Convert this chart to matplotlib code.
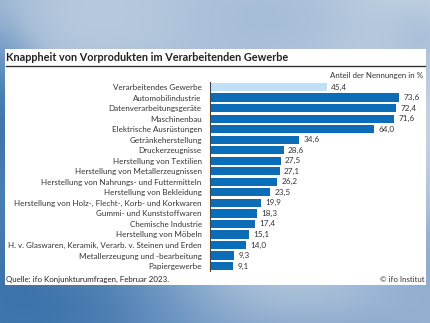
import numpy as np
import matplotlib
matplotlib.use("Agg")
import matplotlib.pyplot as plt
from matplotlib.patches import Rectangle
from matplotlib.colors import LinearSegmentedColormap

# data (February 2023)
categories = [
    "Verarbeitendes Gewerbe",
    "Automobilindustrie",
    "Datenverarbeitungsgeräte",
    "Maschinenbau",
    "Elektrische Ausrüstungen",
    "Getränkeherstellung",
    "Druckerzeugnisse",
    "Herstellung von Textilien",
    "Herstellung von Metallerzeugnissen",
    "Herstellung von Nahrungs- und Futtermitteln",
    "Herstellung von Bekleidung",
    "Herstellung von Holz-, Flecht-, Korb- und Korkwaren",
    "Gummi- und Kunststoffwaren",
    "Chemische Industrie",
    "Herstellung von Möbeln",
    "H. v. Glaswaren, Keramik, Verarb. v. Steinen und Erden",
    "Metallerzeugung und -bearbeitung",
    "Papiergewerbe",
]
values = [45.4, 73.6, 72.4, 71.6, 64.0, 34.6, 28.6, 27.5, 27.1, 26.2,
          23.5, 19.9, 18.3, 17.4, 15.1, 14.0, 9.3, 9.1]

title = "Knappheit von Vorprodukten im Verarbeitenden Gewerbe"
unit_label = "Anteil der Nennungen in %"
source = "Quelle: ifo Konjunkturumfragen, Februar 2023."
copyright_txt = "© ifo Institut"

W, H = 430, 323
fig = plt.figure(figsize=(W / 100, H / 100), dpi=100)
plt.rcParams['font.family'] = ['Lato', 'DejaVu Sans']

# watercolour-ish blue background (smooth gradient)
bg = fig.add_axes([0, 0, 1, 1])
bg.set_axis_off()
yy, xx = np.mgrid[0:1:200j, 0:1:260j]
field = 0.45 * xx + 0.45 * (1 - yy) + 0.12 * np.sin(7 * xx + 4 * yy) + 0.08 * np.cos(11 * yy - 5 * xx)
field = field - 0.5 * np.exp(-((xx - 0.0) ** 2 / 0.01 + (yy - 0.45) ** 2 / 0.1))
field = field - 0.3 * np.exp(-((xx - 1.0) ** 2 / 0.01 + (yy - 0.1) ** 2 / 0.02))
cmap = LinearSegmentedColormap.from_list("wc", ["#3d73ab", "#6f97c3", "#a9bfd8", "#c3d2e3"])
bg.imshow(field, cmap=cmap, aspect="auto", extent=[0, 1, 0, 1], origin="upper")
bg.set_xlim(0, 1)
bg.set_ylim(0, 1)


def px(x, y):
    return x / W, 1 - y / H


# white card
x0, y0 = px(5, 285)
x1, y1 = px(426, 49)
bg.add_patch(Rectangle((x0, y0), x1 - x0, y1 - y0, facecolor="white", edgecolor="none", zorder=2))
lx0, ly = px(6, 65.5)
lx1, _ = px(425, 65.5)
bg.plot([lx0, lx1], [ly, ly], color="#333333", lw=1.0, zorder=3)

tx, ty = px(6, 57.5)
bg.text(tx, ty, title, fontsize=7.8, fontweight="bold", color="#222222",
        ha="left", va="center", zorder=4)
ux, uy = px(423, 75.5)
bg.text(ux, uy, unit_label, fontsize=5.7, color="#333333", ha="right", va="center", zorder=4)
sx, sy = px(6, 279)
bg.text(sx, sy, source, fontsize=5.7, color="#222222", ha="left", va="center", zorder=4)
cx, cy = px(424, 279.5)
bg.text(cx, cy, copyright_txt, fontsize=5.7, color="#333333", ha="right", va="center", zorder=4)

# bar chart
n = len(categories)
ax = fig.add_axes([210 / W, (H - 271.3) / H, 205.6 / W, 189.5 / H])
ax.set_zorder(5)
ax.patch.set_alpha(0)
ypos = np.arange(n)
colors = ["#bfe0f7"] + ["#0b6cb7"] * (n - 1)
ax.barh(ypos, values, height=0.78, color=colors)
for yv, v in zip(ypos, values):
    ax.text(v + 1.7, yv, f"{v:.1f}".replace(".", ","), fontsize=5.9,
            color="#333333", va="center", ha="left")
ax.set_xlim(0, 80)
ax.set_ylim(n - 0.5, -0.5)
ax.set_yticks(ypos)
ax.set_yticklabels(categories, fontsize=5.8, color="#333333")
ax.tick_params(axis="y", length=0, pad=6)
ax.set_xticks([])
for s in ["top", "right", "bottom"]:
    ax.spines[s].set_visible(False)
ax.spines["left"].set_color("#444444")
ax.spines["left"].set_linewidth(0.8)

fig.savefig("out.png", dpi=100)
